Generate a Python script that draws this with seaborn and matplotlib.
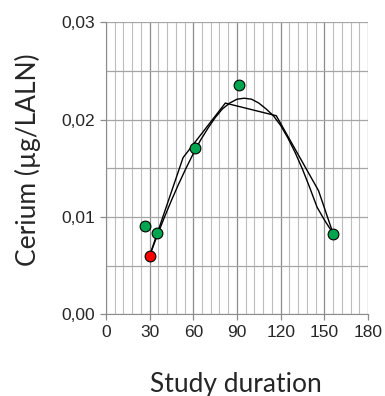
import matplotlib
matplotlib.use("Agg")
import matplotlib.pyplot as plt
import seaborn as sns
from matplotlib.ticker import MultipleLocator, FuncFormatter

# Data
green_x = [27, 35, 61, 91.5, 156]
green_y = [0.0091, 0.0084, 0.0171, 0.0236, 0.0083]
red_x = [30]
red_y = [0.0060]

# Polyline (trend through means)
poly_x = [30, 53, 82, 117, 146, 156]
poly_y = [0.0060, 0.0161, 0.0217, 0.0204, 0.0127, 0.0083]

# Smooth fitted curve
curve_x = [30, 35, 40, 45, 50, 55, 60, 65, 70, 75, 80, 85, 90, 95, 100, 105, 110,
           115, 120, 125, 130, 135, 140, 145, 150, 156]
curve_y = [0.0060, 0.0080, 0.0099, 0.0117, 0.0134, 0.0150, 0.0165, 0.0179, 0.0191,
           0.0202, 0.0211, 0.0217, 0.0221, 0.0222, 0.0221, 0.0217, 0.0211,
           0.0204, 0.0194, 0.0181, 0.0166, 0.0149, 0.0130, 0.0110, 0.0097, 0.0083]

x_ticks = [0, 30, 60, 90, 120, 150, 180]
y_ticks = [0.00, 0.01, 0.02, 0.03]
x_label = "Study duration"
y_label = "Cerium (µg/LALN)"

sns.set_style("white")
plt.rcParams['font.family'] = ['Liberation Sans', 'DejaVu Sans']

fig = plt.figure(figsize=(3.85, 3.96), dpi=100)
ax = fig.add_axes([0.275, 0.2063, 0.681, 0.7374])

ax.set_xlim(0, 180)
ax.set_ylim(0, 0.03)

ax.xaxis.set_minor_locator(MultipleLocator(6))
ax.yaxis.set_minor_locator(MultipleLocator(0.005))
ax.set_xticks(x_ticks)
ax.set_yticks(y_ticks)

ax.grid(which='major', axis='x', color='#8c8c8c', linewidth=0.9)
ax.grid(which='minor', axis='x', color='#bdbdbd', linewidth=0.8)
ax.grid(which='both', axis='y', color='#a6a6a6', linewidth=0.9)
ax.set_axisbelow(True)

for s in ax.spines.values():
    s.set_visible(False)
ax.spines['left'].set_visible(True)
ax.spines['left'].set_color('#8c8c8c')
ax.spines['bottom'].set_visible(True)
ax.spines['bottom'].set_color('#8c8c8c')

ax.tick_params(axis='both', which='major', length=4.3, width=0.9, color='#8c8c8c',
               labelsize=12.5, pad=3.5, direction='out', left=True, bottom=True)
ax.tick_params(axis='both', which='minor', length=0)

ax.yaxis.set_major_formatter(FuncFormatter(lambda v, p: f"{v:.2f}".replace('.', ',')))
ax.xaxis.set_major_formatter(FuncFormatter(lambda v, p: f"{int(round(v))}"))

sns.lineplot(x=curve_x, y=curve_y, ax=ax, color='black', linewidth=1.0, sort=False, zorder=3)
sns.lineplot(x=poly_x, y=poly_y, ax=ax, color='black', linewidth=1.0, sort=False, zorder=3)

sns.scatterplot(x=green_x, y=green_y, ax=ax, color='#00a550', edgecolor='black',
                linewidth=0.8, s=60, zorder=4, clip_on=False)
sns.scatterplot(x=red_x, y=red_y, ax=ax, color='#ff0000', edgecolor='black',
                linewidth=0.8, s=60, zorder=4, clip_on=False)

ax.set_xlabel("")
ax.set_ylabel("")
fig.text(235.5 / 385, 1 - 392 / 396, x_label, fontsize=19, family=['Lato', 'DejaVu Sans'],
         ha='center', va='baseline')
fig.text(28 / 385, 1 - 160 / 396, y_label, fontsize=19, family=['Lato', 'DejaVu Sans'],
         ha='center', va='center', rotation=90)

fig.savefig("out.png", dpi=100)
